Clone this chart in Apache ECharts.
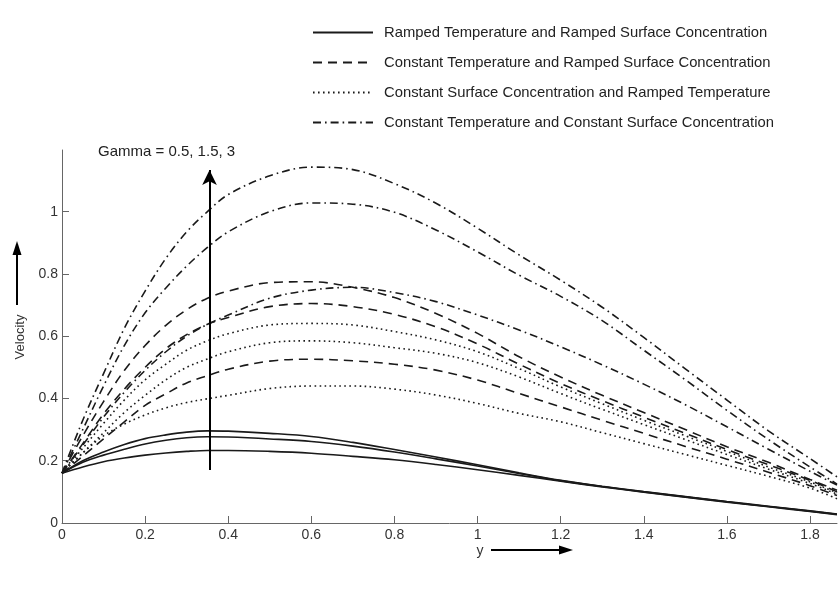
<!DOCTYPE html>
<html>
<head>
<meta charset="utf-8">
<script src="https://cdn.jsdelivr.net/npm/echarts@6/dist/echarts.min.js"></script>
<style>
html,body{margin:0;padding:0;background:#fff;}
#chart{width:839px;height:608px;}
</style>
</head>
<body>
<div id="chart"></div>
<script>
// ---- data ----
var xs = [0, 0.05, 0.1, 0.15, 0.2, 0.25, 0.3, 0.35, 0.4, 0.5, 0.6, 0.7, 0.8, 0.9, 1.0, 1.1, 1.2, 1.3, 1.4, 1.5, 1.6, 1.7, 1.8, 1.865];

var groupNames = [
  'Ramped Temperature and Ramped Surface Concentration',
  'Constant Temperature and Ramped Surface Concentration',
  'Constant Surface Concentration and Ramped Temperature',
  'Constant Temperature and Constant Surface Concentration'
];

// Ramped T & ramped C (solid), Gamma = 3, 1.5, 0.5
var solid1 = [0.16, 0.2, 0.228, 0.252, 0.271, 0.283, 0.292, 0.296, 0.295, 0.288, 0.278, 0.259, 0.236, 0.212, 0.187, 0.161, 0.137, 0.118, 0.101, 0.085, 0.069, 0.054, 0.039, 0.029];
var solid2 = [0.16, 0.195, 0.218, 0.237, 0.254, 0.266, 0.274, 0.277, 0.276, 0.27, 0.262, 0.247, 0.228, 0.206, 0.183, 0.159, 0.136, 0.117, 0.1, 0.084, 0.068, 0.053, 0.038, 0.028];
var solid3 = [0.16, 0.18, 0.197, 0.209, 0.218, 0.225, 0.23, 0.233, 0.233, 0.23, 0.224, 0.214, 0.203, 0.188, 0.171, 0.153, 0.134, 0.116, 0.099, 0.083, 0.067, 0.052, 0.037, 0.027];

// Constant T & ramped C (dashed)
var dashed1 = [0.16, 0.28, 0.39, 0.49, 0.57, 0.635, 0.685, 0.722, 0.745, 0.772, 0.775, 0.757, 0.724, 0.673, 0.609, 0.534, 0.469, 0.41, 0.355, 0.3, 0.245, 0.195, 0.14, 0.105];
var dashed2 = [0.16, 0.255, 0.35, 0.43, 0.5, 0.56, 0.605, 0.638, 0.66, 0.695, 0.705, 0.695, 0.67, 0.63, 0.575, 0.51, 0.448, 0.393, 0.34, 0.288, 0.236, 0.187, 0.137, 0.1];
var dashed3 = [0.16, 0.215, 0.27, 0.325, 0.378, 0.415, 0.45, 0.473, 0.494, 0.52, 0.526, 0.521, 0.51, 0.491, 0.459, 0.416, 0.373, 0.33, 0.288, 0.246, 0.205, 0.163, 0.12, 0.088];

// Constant C & ramped T (dotted)
var dotted1 = [0.16, 0.24, 0.32, 0.395, 0.46, 0.51, 0.555, 0.585, 0.608, 0.636, 0.641, 0.636, 0.615, 0.588, 0.55, 0.496, 0.437, 0.383, 0.33, 0.28, 0.23, 0.18, 0.132, 0.097];
var dotted2 = [0.16, 0.225, 0.29, 0.355, 0.41, 0.46, 0.5, 0.527, 0.55, 0.579, 0.585, 0.579, 0.563, 0.545, 0.515, 0.469, 0.416, 0.365, 0.316, 0.268, 0.22, 0.173, 0.127, 0.093];
var dotted3 = [0.16, 0.225, 0.28, 0.318, 0.347, 0.37, 0.387, 0.399, 0.41, 0.432, 0.44, 0.44, 0.43, 0.411, 0.384, 0.352, 0.325, 0.29, 0.255, 0.22, 0.185, 0.15, 0.112, 0.078];

// Constant T & constant C (dash-dot)
var dashdot1 = [0.16, 0.33, 0.48, 0.625, 0.745, 0.85, 0.935, 1.0, 1.055, 1.115, 1.143, 1.135, 1.09, 1.027, 0.947, 0.861, 0.78, 0.693, 0.596, 0.495, 0.395, 0.296, 0.207, 0.148];
var dashdot2 = [0.16, 0.3, 0.44, 0.57, 0.675, 0.755, 0.825, 0.885, 0.935, 1.0, 1.028, 1.024, 0.998, 0.941, 0.871, 0.796, 0.728, 0.65, 0.555, 0.46, 0.362, 0.268, 0.18, 0.125];
var dashdot3 = [0.16, 0.25, 0.34, 0.42, 0.49, 0.55, 0.6, 0.638, 0.668, 0.722, 0.748, 0.757, 0.74, 0.711, 0.668, 0.62, 0.566, 0.508, 0.446, 0.38, 0.309, 0.237, 0.166, 0.122];

var xTicks = [0, 0.2, 0.4, 0.6, 0.8, 1, 1.2, 1.4, 1.6, 1.8];
var yTicks = [0, 0.2, 0.4, 0.6, 0.8, 1];

var gammaArrowX = 0.355, gammaArrowFrom = 0.17, gammaArrowTo = 1.134;
// ---- end data ----

var lineColor = '#1a1a1a';
var styles = [
  {type: 'solid', width: 1.6},
  {type: [9, 6], width: 1.6},
  {type: [1.6, 3.4], width: 1.6},
  {type: [8, 4, 1.6, 4], width: 1.6}
];
var groups = [
  [solid1, solid2, solid3],
  [dashed1, dashed2, dashed3],
  [dotted1, dotted2, dotted3],
  [dashdot1, dashdot2, dashdot3]
];

function pairs(ys) { return xs.map(function (x, i) { return [x, ys[i]]; }); }

var series = [];
groups.forEach(function (g, gi) {
  g.forEach(function (ys) {
    series.push({
      name: groupNames[gi],
      type: 'line',
      data: pairs(ys),
      smooth: 0.35,
      symbol: 'none',
      silent: true,
      lineStyle: {color: lineColor, type: styles[gi].type, width: styles[gi].width},
      itemStyle: {color: lineColor}
    });
  });
});

// Gamma arrow as a markLine in data coordinates
series[0].markLine = {
  silent: true,
  symbol: ['none', 'arrow'],
  symbolSize: [11, 15],
  label: {show: false},
  lineStyle: {color: '#000', type: 'solid', width: 2},
  data: [[{coord: [gammaArrowX, gammaArrowFrom]}, {coord: [gammaArrowX, gammaArrowTo]}]]
};

var font = '"Liberation Sans", Arial, Helvetica, sans-serif';

var chart = echarts.init(document.getElementById('chart'), null, {renderer: 'canvas'});
chart.setOption({
  animation: false,
  backgroundColor: '#fff',
  grid: {left: 62, right: 2, top: 150, bottom: 85, containLabel: false},
  legend: {
    orient: 'vertical',
    left: 307,
    top: 20,
    itemWidth: 60,
    itemHeight: 14,
    itemGap: 15,
    selectedMode: false,
    data: groupNames,
    itemStyle: {color: 'rgba(0,0,0,0)', borderColor: 'rgba(0,0,0,0)', borderWidth: 0, opacity: 0},
    textStyle: {fontFamily: font, fontSize: 14.8, color: '#222', padding: [0, 0, 0, 6]}
  },
  xAxis: {
    type: 'value',
    min: 0,
    max: 1.865,
    axisLine: {show: true, lineStyle: {color: '#666', width: 1}},
    axisTick: {show: true, inside: true, length: 7, customValues: xTicks, lineStyle: {color: '#666'}},
    axisLabel: {customValues: xTicks, fontFamily: font, fontSize: 14, color: '#333', margin: 5,
      formatter: function (v) { return String(+v.toFixed(1)); }},
    splitLine: {show: false}
  },
  yAxis: {
    type: 'value',
    min: 0,
    max: 1.198,
    axisLine: {show: true, lineStyle: {color: '#666', width: 1}},
    axisTick: {show: true, inside: true, length: 7, customValues: yTicks, lineStyle: {color: '#666'}},
    axisLabel: {customValues: yTicks, fontFamily: font, fontSize: 14, color: '#333', margin: 4,
      formatter: function (v) { return String(+v.toFixed(1)); }},
    splitLine: {show: false}
  },
  graphic: [
    {type: 'text', left: 98, top: 144, silent: true,
      style: {text: 'Gamma = 0.5, 1.5, 3', fontFamily: font, fontSize: 15, fill: '#222'}},
    {type: 'text', x: 20, y: 337, rotation: Math.PI / 2, silent: true,
      style: {text: 'Velocity', fontFamily: font, fontSize: 13, fill: '#333', align: 'center', verticalAlign: 'middle'}},
    {type: 'line', silent: true, shape: {x1: 17, y1: 305, x2: 17, y2: 252}, style: {stroke: '#000', lineWidth: 2}},
    {type: 'polygon', silent: true, shape: {points: [[17, 241], [12.5, 255], [21.5, 255]]}, style: {fill: '#000'}},
    {type: 'text', x: 480, y: 551, silent: true,
      style: {text: 'y', fontFamily: font, fontSize: 14, fill: '#333', align: 'center', verticalAlign: 'middle'}},
    {type: 'line', silent: true, shape: {x1: 491, y1: 550, x2: 562, y2: 550}, style: {stroke: '#000', lineWidth: 2}},
    {type: 'polygon', silent: true, shape: {points: [[573, 550], [559, 545.5], [559, 554.5]]}, style: {fill: '#000'}}
  ],
  series: series
});
</script>
</body>
</html>
